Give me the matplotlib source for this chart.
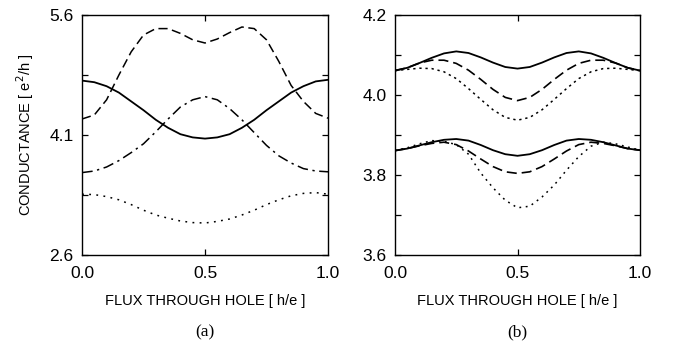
import matplotlib
matplotlib.use("Agg")
import matplotlib.pyplot as plt
from matplotlib.ticker import FixedLocator, FormatStrFormatter

# flux values (h/e), same grid for every curve
flux = [0.0, 0.05, 0.1, 0.15, 0.2, 0.25, 0.3, 0.35, 0.4, 0.45, 0.5,
        0.55, 0.6, 0.65, 0.7, 0.75, 0.8, 0.85, 0.9, 0.95, 1.0]

# panel (a)
a_solid = [4.78, 4.76, 4.71, 4.63, 4.52, 4.41, 4.29, 4.19, 4.11, 4.07, 4.055,
           4.07, 4.11, 4.19, 4.29, 4.41, 4.52, 4.63, 4.71, 4.77, 4.79]
a_dashed = [4.30, 4.35, 4.54, 4.85, 5.14, 5.35, 5.43, 5.43, 5.37, 5.29, 5.25,
            5.30, 5.38, 5.45, 5.43, 5.29, 5.02, 4.72, 4.52, 4.37, 4.31]
a_dashdot = [3.63, 3.65, 3.70, 3.78, 3.88, 3.99, 4.14, 4.30, 4.45, 4.54, 4.58,
             4.54, 4.43, 4.29, 4.13, 3.97, 3.84, 3.75, 3.68, 3.65, 3.64]
a_dotted = [3.36, 3.355, 3.33, 3.29, 3.23, 3.16, 3.10, 3.06, 3.025, 3.005, 3.0,
            3.02, 3.05, 3.10, 3.16, 3.23, 3.29, 3.34, 3.37, 3.38, 3.36]
a_yticks = [2.6, 4.1, 5.6]
a_yminor = [3.35, 4.85]

# panel (b), upper group
b_up_solid = [4.061, 4.068, 4.080, 4.093, 4.104, 4.109, 4.105, 4.094, 4.081, 4.070, 4.066,
              4.070, 4.081, 4.094, 4.105, 4.109, 4.104, 4.093, 4.080, 4.068, 4.061]
b_up_dashed = [4.061, 4.068, 4.080, 4.087, 4.087, 4.079, 4.062, 4.039, 4.014, 3.994, 3.986,
               3.994, 4.014, 4.039, 4.062, 4.079, 4.087, 4.087, 4.080, 4.068, 4.061]
b_up_dotted = [4.061, 4.064, 4.067, 4.066, 4.058, 4.041, 4.016, 3.989, 3.963, 3.944, 3.937,
               3.944, 3.963, 3.989, 4.016, 4.041, 4.058, 4.066, 4.067, 4.064, 4.061]

# panel (b), lower group
b_lo_solid = [3.861, 3.866, 3.874, 3.882, 3.888, 3.890, 3.886, 3.875, 3.862, 3.852, 3.848,
              3.852, 3.862, 3.875, 3.886, 3.890, 3.888, 3.882, 3.874, 3.866, 3.862]
b_lo_dashed = [3.861, 3.866, 3.873, 3.879, 3.882, 3.876, 3.860, 3.840, 3.821, 3.808, 3.804,
               3.808, 3.821, 3.840, 3.860, 3.876, 3.882, 3.879, 3.873, 3.866, 3.862]
b_lo_dotted = [3.861, 3.868, 3.878, 3.886, 3.884, 3.876, 3.852, 3.805, 3.768, 3.737, 3.718,
               3.722, 3.745, 3.775, 3.812, 3.846, 3.872, 3.882, 3.878, 3.870, 3.862]
b_yticks = [3.6, 3.8, 4.0, 4.2]
b_yminor = [3.7, 3.9, 4.1]

xticks = [0.0, 0.5, 1.0]

plt.rcParams['font.family'] = ['Liberation Sans', 'DejaVu Sans']

fig = plt.figure(figsize=(6.73, 3.48), dpi=100)
ax1 = fig.add_axes([82 / 673, 93 / 348, 246 / 673, 240 / 348])
ax2 = fig.add_axes([395 / 673, 93 / 348, 245 / 673, 240 / 348])

lw = 1.3
ax1.plot(flux, a_solid, color='black', lw=lw)
ax1.plot(flux, a_dashed, color='black', lw=1.1, dashes=(6, 3))
ax1.plot(flux, a_dashdot, color='black', lw=1.1, dashes=(7, 3, 1.5, 3))
ax1.plot(flux, a_dotted, color='black', lw=1.1, dashes=(1.2, 3.5))

ax2.plot(flux, b_up_solid, color='black', lw=lw)
ax2.plot(flux, b_up_dashed, color='black', lw=1.2, dashes=(6, 3))
ax2.plot(flux, b_up_dotted, color='black', lw=1.1, dashes=(1.5, 2.5))
ax2.plot(flux, b_lo_solid, color='black', lw=lw)
ax2.plot(flux, b_lo_dashed, color='black', lw=1.2, dashes=(6, 3))
ax2.plot(flux, b_lo_dotted, color='black', lw=1.1, dashes=(1.2, 3))

ax1.set_ylim(2.6, 5.6)
ax1.yaxis.set_major_locator(FixedLocator(a_yticks))
ax1.yaxis.set_minor_locator(FixedLocator(a_yminor))
ax2.set_ylim(3.6, 4.2)
ax2.yaxis.set_major_locator(FixedLocator(b_yticks))
ax2.yaxis.set_minor_locator(FixedLocator(b_yminor))

for ax, lab in ((ax1, '(a)'), (ax2, '(b)')):
    ax.set_xlim(0, 1)
    ax.set_xticks(xticks)
    ax.set_xticklabels(['%.1f' % v for v in xticks])
    ax.yaxis.set_major_formatter(FormatStrFormatter('%.1f'))
    ax.tick_params(which='both', direction='in', top=True, right=True,
                   labelsize=12.5, length=4, width=0.9, pad=6)
    ax.tick_params(axis='x', pad=8)
    for s in ax.spines.values():
        s.set_linewidth(1.0)
    ax.set_xlabel('FLUX THROUGH HOLE [ h/e ]', fontsize=10.5, labelpad=9)
    ax.text(0.5, -0.29, lab, transform=ax.transAxes, ha='center', va='top',
            fontsize=12.5, family=['Liberation Serif', 'DejaVu Serif'])

# only the 0.5 tick mark is drawn on the x spines
for ax in (ax1, ax2):
    xt = ax.xaxis.get_major_ticks()
    for i in (0, 2):
        xt[i].tick1line.set_visible(False)
        xt[i].tick2line.set_visible(False)

ax1.set_ylabel('CONDUCTANCE [ e$^2$/h ]', fontsize=10.5, labelpad=10)

fig.savefig('out.png', dpi=100)
